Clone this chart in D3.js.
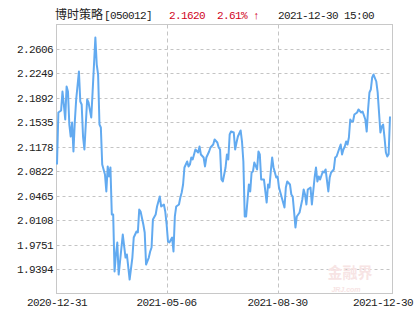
<!DOCTYPE html>
<html>
<head>
<meta charset="utf-8">
<script src="https://cdn.jsdelivr.net/npm/d3@7"></script>
<style>
  body { margin: 0; background: #fff; }
  svg { display: block; }
</style>
</head>
<body>
<script>
// fund info shown in the title row
const fundName = "博时策略[050012]";
const lastNav = "2.1620";
const lastChange = "2.61% ↑";
const lastTime = "2021-12-30 15:00";

// trading-day index (0 = 2020-12-31) and unit net value
const days = [0, 1, 3, 4, 5, 6, 7, 8, 9, 10, 11, 12, 13, 14, 16, 17, 18, 19, 20, 21,
  22, 23, 25, 26, 28, 29, 30, 31, 32, 33, 35, 36, 37, 38, 39, 40, 41, 42, 43, 44,
  45, 46, 48, 50, 51, 53, 55, 56, 58, 59, 60, 61, 63, 64, 65, 67, 68, 69, 70, 72,
  73, 75, 76, 78, 79, 80, 81, 82, 84, 85, 86, 87, 89, 90, 91, 92, 93, 95, 96, 97,
  98, 99, 101, 103, 104, 105, 107, 108, 109, 111, 112, 114, 115, 117, 118, 119, 120, 121, 123, 124,
  125, 126, 127, 129, 130, 131, 132, 134, 135, 136, 137, 138, 140, 141, 142, 143, 144, 146, 147, 148,
  149, 151, 153, 154, 155, 156, 157, 158, 160, 161, 162, 164, 166, 167, 168, 170, 171, 172, 173, 174,
  175, 177, 179, 180, 181, 182, 183, 185, 186, 188, 189, 190, 191, 192, 194, 195, 196, 198, 199, 200,
  202, 203, 204, 205, 207, 208, 209, 210, 211, 212, 213, 214, 215, 216, 217, 219, 220, 222, 223, 225,
  226, 227, 228, 229, 230, 231, 233, 234, 235, 236, 237, 238, 239, 240, 241, 242, 243];
const nav = [2.0920, 2.1679, 2.1708, 2.1985, 2.1795, 2.1576, 2.2058, 2.1985, 2.1503, 2.1328,
  2.1533, 2.1109, 2.1547, 2.1868, 2.2277, 2.1839, 2.1795, 2.1328, 2.1139, 2.1503,
  2.1868, 2.1825, 2.1606, 2.1985, 2.2773, 2.2379, 2.2233, 2.1503, 2.1460, 2.0920,
  2.0774, 2.0526, 2.0891, 2.0745, 2.0876, 2.0190, 2.0190, 1.9358, 1.9606, 1.9781,
  1.9314, 1.9504, 1.9898, 1.9562, 1.9606, 1.9241, 1.9562, 1.9854, 1.9942, 1.9927,
  2.0263, 2.0234, 2.0044, 1.9927, 1.9460, 1.9562, 1.9650, 1.9708, 2.0117, 2.0190,
  2.0307, 2.0453, 2.0307, 2.0336, 2.0234, 2.0044, 1.9796, 1.9781, 1.9854, 1.9650,
  2.0161, 2.0307, 2.0336, 2.0438, 2.0511, 2.0628, 2.0876, 2.0964, 2.0891, 2.0920,
  2.1022, 2.0993, 2.1139, 2.1095, 2.1182, 2.1066, 2.1022, 2.0891, 2.1022, 2.1109,
  2.1168, 2.1212, 2.1285, 2.1241, 2.1168, 2.1139, 2.0701, 2.0672, 2.0876, 2.1066,
  2.0993, 2.1358, 2.1401, 2.1387, 2.1139, 2.1241, 2.1328, 2.1416, 2.1255, 2.0964,
  2.0161, 2.0161, 2.0628, 2.0526, 2.0803, 2.0818, 2.0949, 2.0847, 2.1109, 2.1066,
  2.0701, 2.0701, 2.0365, 2.0628, 2.0584, 2.0818, 2.1022, 2.0876, 2.0730, 2.0745,
  2.0584, 2.0438, 2.0292, 2.0584, 2.0672, 2.0628, 2.0482, 2.0453, 2.0234, 2.0000,
  2.0161, 2.0219, 2.0409, 2.0555, 2.0482, 2.0336, 2.0555, 2.0584, 2.0336, 2.0730,
  2.0876, 2.0672, 2.0745, 2.0701, 2.0818, 2.0803, 2.0847, 2.0526, 2.0730, 2.0803,
  2.0847, 2.1022, 2.1037, 2.1095, 2.1212, 2.1066, 2.1139, 2.1182, 2.1255, 2.1212,
  2.1314, 2.1576, 2.1547, 2.1547, 2.1649, 2.1679, 2.1722, 2.1679, 2.1693, 2.1576,
  2.1401, 2.1722, 2.1971, 2.2014, 2.2190, 2.2233, 2.2131, 2.1971, 2.1679, 2.1387,
  2.1474, 2.1503, 2.1314, 2.1095, 2.1037, 2.1070, 2.1620];

// axis setup
const yMin = 1.9037;
const yMax = 2.2963;
const yTicks = [1.9394, 1.9751, 2.0108, 2.0465, 2.0822, 2.1178, 2.1535, 2.1892, 2.2249, 2.2606];
const xTickDays = [0, 80, 161, 243];
const xTickLabels = ["2020-12-31", "2021-05-06", "2021-08-30", "2021-12-30"];

// canvas constants
const width = 415;
const height = 330;
const plot = {left: 56.5, top: 24.5, right: 392.5, bottom: 293.5};
const lineColor = "#62aaf0";
const gridColor = "#c4c4c4";
const asciiFont = "'Liberation Mono', 'DejaVu Sans Mono', monospace";

const svg = d3.select('body')
  .append('svg')
  .attr('width', width)
  .attr('height', height);

const x = d3.scaleLinear().domain([0, 243]).range([57, 390]);
const y = d3.scaleLinear().domain([yMin, yMax]).range([plot.bottom, plot.top]);

/**
 * title row: name, latest value, change and time
 */
function drawTitle() {
  const t = svg.append('text')
    .attr('x', 55)
    .attr('y', 19)
    .style('font-size', '11px')
    .style('font-family', asciiFont)
    .style('letter-spacing', '-0.6px');
  t.append('tspan')
    .attr('fill', '#222')
    .style('font-family', "'Noto Sans CJK SC', sans-serif")
    .style('font-size', '12px')
    .style('letter-spacing', '0px')
    .text(fundName.slice(0, 4));
  t.append('tspan')
    .attr('fill', '#222')
    .attr('dx', 1)
    .text(fundName.slice(4));

  svg.append('text')
    .attr('x', 169).attr('y', 19)
    .attr('fill', '#d0021b')
    .style('font-size', '11px').style('font-family', asciiFont)
    .style('letter-spacing', '-0.6px')
    .text(lastNav);
  svg.append('text')
    .attr('x', 217).attr('y', 19)
    .attr('fill', '#d0021b')
    .style('font-size', '11px').style('font-family', asciiFont)
    .style('letter-spacing', '-0.6px')
    .text(lastChange);
  svg.append('text')
    .attr('x', 278).attr('y', 19)
    .attr('fill', '#222')
    .style('font-size', '11px').style('font-family', asciiFont)
    .style('letter-spacing', '-0.6px')
    .text(lastTime);
}

/**
 * grid lines, frame and tick labels
 */
function drawAxes() {
  const grid = svg.append('g');

  grid.selectAll('line.h')
    .data(yTicks)
    .enter().append('line')
    .attr('class', 'h')
    .attr('x1', plot.left).attr('x2', plot.right)
    .attr('y1', (d) => Math.round(y(d)) + 0.5)
    .attr('y2', (d) => Math.round(y(d)) + 0.5)
    .attr('stroke', gridColor)
    .attr('stroke-dasharray', '3,3');

  grid.selectAll('line.v')
    .data(xTickDays.slice(1, -1))
    .enter().append('line')
    .attr('class', 'v')
    .attr('x1', (d) => Math.round(x(d)) + 0.5)
    .attr('x2', (d) => Math.round(x(d)) + 0.5)
    .attr('y1', plot.top).attr('y2', plot.bottom)
    .attr('stroke', gridColor)
    .attr('stroke-dasharray', '4,3');

  svg.append('rect')
    .attr('x', plot.left).attr('y', plot.top)
    .attr('width', plot.right - plot.left)
    .attr('height', plot.bottom - plot.top)
    .attr('fill', 'none')
    .attr('stroke', '#c8c8c8');

  svg.append('g').selectAll('text')
    .data(yTicks)
    .enter().append('text')
    .attr('x', 53)
    .attr('y', (d) => y(d) + 4)
    .attr('text-anchor', 'end')
    .attr('fill', '#222')
    .style('font-size', '11px')
    .style('font-family', asciiFont)
    .style('letter-spacing', '-0.6px')
    .text((d) => d.toFixed(4));

  const labels = svg.append('g').selectAll('text')
    .data(xTickDays)
    .enter().append('text')
    .attr('y', 306)
    .attr('text-anchor', 'middle')
    .attr('fill', '#222')
    .style('font-size', '11px')
    .style('font-family', asciiFont)
    .style('letter-spacing', '-0.6px')
    .text((d, i) => xTickLabels[i]);

  // keep the last label inside the window
  labels.attr('x', function(d) {
    const half = this.getComputedTextLength() / 2;
    return Math.min(Math.max(x(d), half + 2), width - half - 2);
  });
}

/**
 * faint site watermark in the lower right corner
 */
function drawWatermark() {
  svg.append('text')
    .attr('x', 350).attr('y', 278)
    .attr('text-anchor', 'middle')
    .attr('fill', '#f7e4e4')
    .style('font-size', '15px')
    .style('font-weight', 'bold')
    .style('font-family', "'Noto Sans CJK SC', sans-serif")
    .text("金融界");
  svg.append('text')
    .attr('x', 346).attr('y', 292)
    .attr('text-anchor', 'middle')
    .attr('fill', '#f7e4e4')
    .style('font-size', '7px')
    .style('font-style', 'italic')
    .style('font-weight', 'bold')
    .style('font-family', 'Liberation Sans, sans-serif')
    .text("JRJ.com");
}

/**
 * the net value line
 */
function drawLine() {
  const points = days.map((d, i) => [d, nav[i]]);
  const line = d3.line()
    .x((d) => x(d[0]))
    .y((d) => y(d[1]));

  svg.append('path')
    .datum(points)
    .attr('d', line)
    .attr('fill', 'none')
    .attr('stroke', lineColor)
    .attr('stroke-width', 2)
    .attr('stroke-linejoin', 'round');
}

drawTitle();
drawAxes();
drawWatermark();
drawLine();
</script>
</body>
</html>
